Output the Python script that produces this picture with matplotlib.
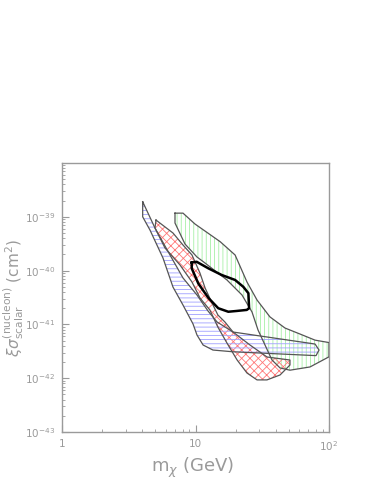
import numpy as np
import matplotlib
matplotlib.use("Agg")
import matplotlib.pyplot as plt
from matplotlib.ticker import FixedLocator, FixedFormatter, LogLocator, NullFormatter

# allowed regions: WIMP mass (GeV) and cross section (cm^2), polygon vertices
blue_m = [4.02, 4.97, 6.44, 8.06, 10.26, 12.4, 14.5, 19.1, 78.6, 84.2, 79.9, 19.1, 13.5, 11.4,
          10.26, 9.58, 8.06, 6.78, 5.71, 4.56, 4.02]
blue_s = [1.91e-39, 6.2e-40, 1.95e-40, 7.3e-41, 3.52e-41, 1.78e-41, 1.11e-41, 7.22e-42, 4.32e-42,
          3.34e-42, 2.63e-42, 3.1e-42, 3.34e-42, 4.14e-42, 6.35e-42, 1.02e-41, 2.29e-41, 4.95e-41,
          1.71e-40, 5.68e-40, 1.0e-39]

red_m = [5.06, 6.78, 8.06, 9.41, 10.8, 11.8, 13.3, 14.7, 16.6, 19.1, 25.6, 34.3, 51.0, 51.0, 43.0,
         34.3, 28.9, 24.3, 20.5, 17.2, 14.7, 12.8, 10.8, 9.41, 7.66, 5.91, 4.97]
red_s = [8.7e-40, 5.0e-40, 2.99e-40, 1.95e-40, 9.0e-41, 4.75e-41, 2.5e-41, 1.5e-41, 1.11e-41,
         7.22e-42, 4.14e-42, 2.48e-42, 2.18e-42, 1.76e-42, 1.15e-42, 9.3e-43, 9.3e-43, 1.25e-42,
         2.18e-42, 4.51e-42, 8.95e-42, 1.86e-41, 3.1e-41, 6.14e-41, 1.27e-40, 2.63e-40, 6.2e-40]

green_m = [7.02, 8.06, 9.91, 15.3, 19.8, 24.3, 28.9, 36.1, 46.8, 60.6, 78.6, 100, 100, 72.1, 51.0,
           43.0, 37.4, 33.7, 29.4, 26.5, 22.3, 17.2, 11.8, 10.26, 8.34, 7.02]
green_s = [1.17e-39, 1.17e-39, 7.35e-40, 3.45e-40, 1.95e-40, 6.14e-41, 2.84e-41, 1.38e-41, 8.57e-42,
           6.63e-42, 5.1e-42, 4.6e-42, 2.5e-42, 1.62e-42, 1.41e-42, 1.55e-42, 2.18e-42, 3.8e-42,
           7.87e-42, 1.7e-41, 3.52e-41, 6.7e-41, 1.38e-40, 1.79e-40, 3.12e-40, 7.67e-40]

black_m = [9.37, 10.2, 12.5, 15.7, 19.8, 22.8, 24.9, 25.2, 24.2, 20.4, 17.6, 14.8, 12.5, 10.5, 9.37]
black_s = [1.41e-40, 1.46e-40, 1.1e-40, 8.3e-41, 6.7e-41, 5.0e-41, 3.8e-41, 2.0e-41, 1.86e-41,
           1.78e-41, 1.72e-41, 2.0e-41, 3.1e-41, 5.75e-41, 1.1e-40]

grey = '#9a9a9a'
plt.rcParams['hatch.linewidth'] = 0.6

fig = plt.figure(figsize=(3.74, 4.84), dpi=100)
ax = fig.add_axes([0.1658, 0.1074, 0.7139, 0.5558])
ax.set_xscale('log')
ax.set_yscale('log')
ax.set_xlim(1, 100)
ax.set_ylim(1e-43, 1e-38)

ax.fill(green_m, green_s, facecolor='none', edgecolor='#a6f0a6', hatch='||||', linewidth=0, zorder=1)
ax.fill(red_m, red_s, facecolor='none', edgecolor='#ff7878', hatch='xxxx', linewidth=0, zorder=2)
ax.fill(blue_m, blue_s, facecolor='none', edgecolor='#a0a0ff', hatch='----', linewidth=0, zorder=3)
for m, s in [(green_m, green_s), (red_m, red_s), (blue_m, blue_s)]:
    ax.plot(m + [m[0]], s + [s[0]], color='#555555', lw=0.9, zorder=4)
ax.plot(black_m + [black_m[0]], black_s + [black_s[0]], color='black', lw=1.8, zorder=5)

for sp in ax.spines.values():
    sp.set_color(grey)
    sp.set_linewidth(1.0)

ax.xaxis.set_major_locator(FixedLocator([1, 10, 100]))
ax.xaxis.set_major_formatter(FixedFormatter(['1', '10', r'$10^{2}$']))
ax.xaxis.set_minor_locator(LogLocator(base=10, subs=np.arange(2, 10)))
ax.xaxis.set_minor_formatter(NullFormatter())
ax.yaxis.set_major_locator(FixedLocator([1e-43, 1e-42, 1e-41, 1e-40, 1e-39]))
ax.yaxis.set_major_formatter(FixedFormatter([r'$10^{-43}$', r'$10^{-42}$', r'$10^{-41}$',
                                             r'$10^{-40}$', r'$10^{-39}$']))
ax.yaxis.set_minor_locator(LogLocator(base=10, subs=np.arange(2, 10)))
ax.yaxis.set_minor_formatter(NullFormatter())
ax.tick_params(which='both', direction='in', colors=grey, labelcolor=grey, labelsize=7.5)
ax.tick_params(which='major', length=5)
ax.tick_params(which='minor', length=2.5)
ax.tick_params(axis='y', pad=5)
ax.tick_params(axis='x', pad=5)

ax.set_xlabel(r'm$_\chi$ (GeV)', color=grey, fontsize=13)
ax.xaxis.set_label_coords(0.49, -0.09)
ax.set_ylabel(r'$\xi\sigma^{(\rm nucleon)}_{\rm scalar}$ (cm$^2$)', color=grey, fontsize=11)
ax.yaxis.set_label_coords(-0.135, 0.5)

fig.savefig('out.png', dpi=100)
